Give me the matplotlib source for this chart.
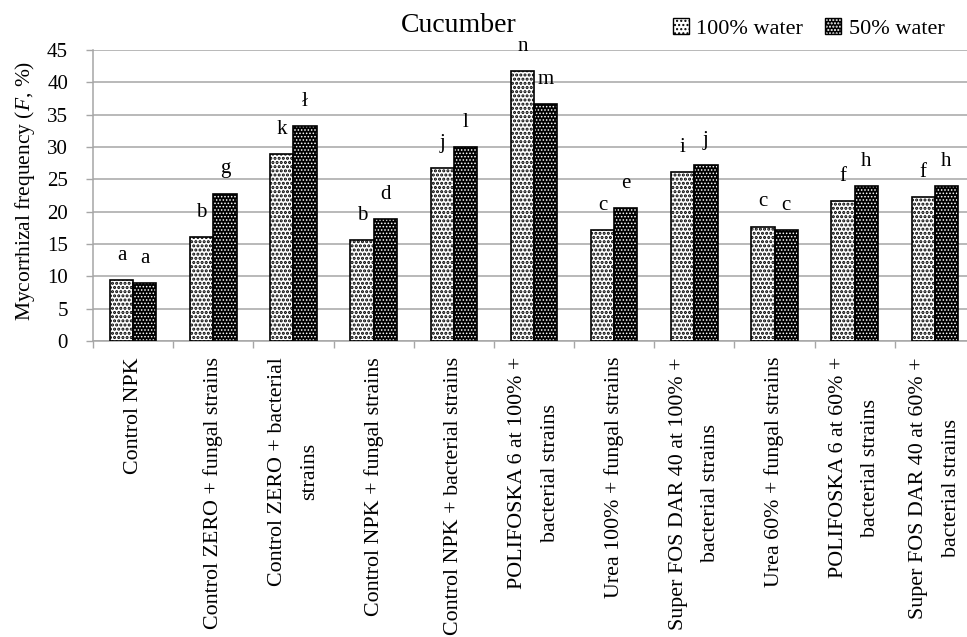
import matplotlib
matplotlib.use("Agg")
import matplotlib.pyplot as plt
from matplotlib.patches import Patch
from matplotlib.legend_handler import HandlerTuple
import numpy as np

categories = [
    "Control NPK",
    "Control ZERO + fungal strains",
    "Control ZERO + bacterial\nstrains",
    "Control NPK + fungal strains",
    "Control NPK + bacterial strains",
    "POLIFOSKA 6 at 100% +\nbacterial strains",
    "Urea 100% + fungal strains",
    "Super FOS DAR 40 at 100% +\nbacterial strains",
    "Urea 60% + fungal strains",
    "POLIFOSKA 6 at 60% +\nbacterial strains",
    "Super FOS DAR 40 at 60% +\nbacterial strains",
]
water100 = [9.4, 16.1, 28.9, 15.6, 26.7, 41.7, 17.2, 26.1, 17.7, 21.7, 22.3]
water50 = [8.9, 22.8, 33.3, 18.9, 30.0, 36.6, 20.5, 27.2, 17.2, 23.9, 23.9]
letters100 = ["a", "b", "k", "b", "j", "n", "c", "i", "c", "f", "f"]
letters50 = ["a", "g", "ł", "d", "l", "m", "e", "j", "c", "h", "h"]
series_names = ["100% water", "50% water"]
yticks = [0, 5, 10, 15, 20, 25, 30, 35, 40, 45]

FONT = "Liberation Serif"
plt.rcParams["font.family"] = [FONT, "DejaVu Serif"]
plt.rcParams["mathtext.fontset"] = "custom"
plt.rcParams["mathtext.rm"] = FONT
plt.rcParams["mathtext.it"] = FONT + ":italic"

W, H = 967, 637
fig = plt.figure(figsize=(W / 100, H / 100), dpi=100)
left, right, bottom, top = 93, 975, 341, 50
ax = fig.add_axes([left / W, 1 - bottom / H, (right - left) / W, (bottom - top) / H])

n = len(categories)
centers = np.arange(n) + 0.5
bw = 0.29
grid_c = "#a6a6a6"

H100 = ("white", "black", "....", 1.5)
H50 = ("black", "white", ".....", 0.7)


def hatched_patch(style, **kw):
    face, hcol, hatch, hlw = style
    with plt.rc_context({"hatch.linewidth": hlw}):
        p = Patch(facecolor=face, edgecolor=hcol, hatch=hatch, linewidth=0, **kw)
    if hasattr(p, "set_hatch_linewidth"):
        p.set_hatch_linewidth(hlw)
    return p


def hatched_bars(xs, vals, style):
    face, hcol, hatch, hlw = style
    with plt.rc_context({"hatch.linewidth": hlw}):
        bars = ax.bar(xs, vals, width=bw, color=face, edgecolor=hcol, hatch=hatch,
                      linewidth=0, zorder=3)
    for b in bars:
        if hasattr(b, "set_hatch_linewidth"):
            b.set_hatch_linewidth(hlw)
    ax.bar(xs, vals, width=bw, facecolor="none", edgecolor="black", linewidth=1.2, zorder=4)


hatched_bars(centers - bw / 2, water100, H100)
hatched_bars(centers + bw / 2, water50, H50)

fs = 15
for x, v, t in zip(centers - bw / 2, water100, letters100):
    ax.text(x, v + 3.8, t, ha="center", va="center", fontsize=fs, zorder=5)
for x, v, t in zip(centers + bw / 2, water50, letters50):
    ax.text(x, v + 3.8, t, ha="center", va="center", fontsize=fs, zorder=5)

ax.set_xlim(0, n)
ax.set_ylim(0, 45)
ax.set_yticks(yticks)
ax.tick_params(axis="y", labelsize=fs, length=5, width=1, color=grid_c, pad=13)
ax.yaxis.grid(True, color=grid_c, linewidth=1.1, zorder=0)
ax.set_axisbelow(True)

ax.set_xticks(np.arange(n + 1))
ax.set_xticklabels([])
ax.tick_params(axis="x", which="major", length=5, width=1, color=grid_c)
ax.set_xticks(centers, minor=True)
ax.set_xticklabels(categories, minor=True, rotation=90, fontsize=15.8,
                   ha="center", va="top", multialignment="center", linespacing=1.95)
ax.tick_params(axis="x", which="minor", length=0, pad=11.5)

for s in ["top", "right"]:
    ax.spines[s].set_visible(False)
for s in ["left", "bottom"]:
    ax.spines[s].set_color(grid_c)
    ax.spines[s].set_linewidth(1.1)

ax.set_ylabel("Mycorrhizal frequency ($\\mathit{F}$, %)", fontsize=15.5)
ax.yaxis.set_label_coords((25 - left) / (right - left), 0.515)
ax.yaxis.label.set_verticalalignment("center")

fig.text(459 / W, 1 - 32 / H, "Cucumber", fontsize=20, ha="center", va="baseline")

h1 = (hatched_patch(H100), Patch(facecolor="none", edgecolor="black", linewidth=1.0))
h2 = (hatched_patch(H50), Patch(facecolor="none", edgecolor="black", linewidth=1.0))
leg = fig.legend([h1, h2], series_names, handler_map={tuple: HandlerTuple(ndivide=1)},
                 loc="center left", bbox_to_anchor=(673 / W, 1 - 28.5 / H), ncol=2,
                 frameon=False, fontsize=16, handlelength=0.7, handleheight=0.7,
                 handletextpad=0.35, columnspacing=1.0, borderpad=0, borderaxespad=0)

fig.savefig("out.png", dpi=100)
